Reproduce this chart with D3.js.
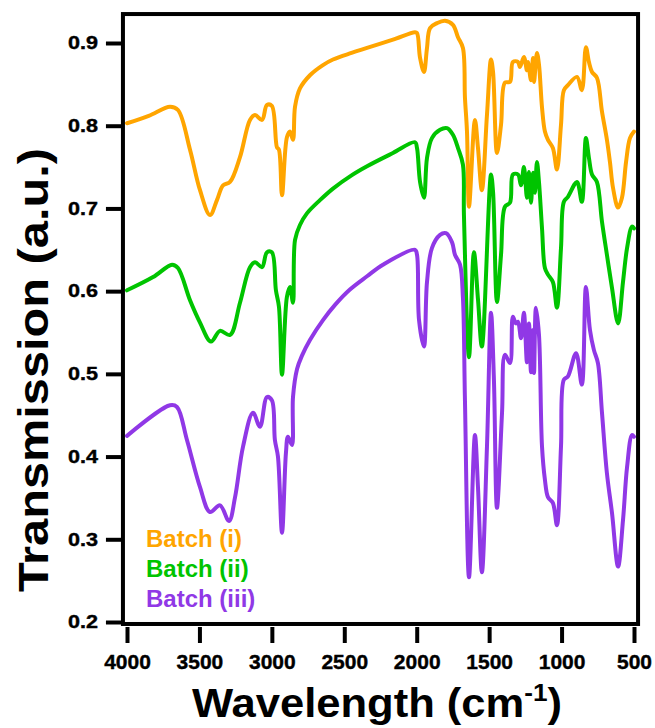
<!DOCTYPE html>
<html lang="en">
  <head>
    <meta charset="utf-8">
    <title>FTIR spectra</title>
    <style>
      body { margin: 0; background: #fff; }
      text { font-family: "Liberation Sans", Arial, sans-serif; font-weight: bold; }
    </style>
  </head>
  <body>
    <svg width="655" height="728"></svg>
    <script src="https://cdn.jsdelivr.net/npm/d3@7/dist/d3.min.js"></script>
    <script>
      // wavenumber (cm-1) and transmission
      const batch1Wn = [4000,3850,3703,3648,3565,3496,3427,3379,3337,3289,3220,3151,3116,3068,3034,3000,2965,2951,2930,2896,2875,2854,2840,2806,2737,2650,2578,2450,2343,2164,2012,1998,1977,1950,1929,1908,1860,1805,1750,1715,1681,1667,1653,1639,1598,1577,1550,1515,1487,1473,1446,1418,1391,1356,1336,1301,1287,1260,1239,1232,1211,1197,1190,1170,1156,1135,1115,1094,1060,1032,1004,984,956,894,860,832,811,790,756,721,687,666,645,610,583,555,528,500];
      const batch1T = [0.803,0.812,0.823,0.819,0.771,0.722,0.692,0.710,0.728,0.732,0.762,0.807,0.813,0.807,0.825,0.824,0.774,0.771,0.716,0.786,0.793,0.783,0.823,0.845,0.861,0.873,0.880,0.888,0.894,0.904,0.913,0.912,0.882,0.865,0.894,0.918,0.924,0.927,0.922,0.907,0.894,0.834,0.793,0.702,0.807,0.773,0.722,0.813,0.880,0.865,0.767,0.801,0.852,0.853,0.877,0.877,0.871,0.883,0.867,0.877,0.855,0.882,0.853,0.888,0.874,0.822,0.793,0.783,0.773,0.747,0.801,0.843,0.849,0.859,0.843,0.895,0.877,0.865,0.858,0.817,0.783,0.756,0.725,0.701,0.713,0.756,0.785,0.793];

      const batch2Wn = [4000,3820,3689,3648,3565,3496,3420,3358,3289,3220,3151,3116,3068,3034,3000,2972,2951,2930,2896,2875,2854,2840,2806,2758,2668,2578,2450,2343,2164,2012,1998,1977,1950,1929,1895,1839,1791,1750,1715,1681,1674,1639,1605,1577,1550,1487,1473,1446,1418,1391,1356,1336,1301,1280,1260,1239,1225,1211,1197,1184,1170,1156,1135,1115,1094,1060,1032,1004,984,956,894,860,832,811,790,756,721,687,652,610,576,548,514,500];
      const batch2T = [0.601,0.617,0.632,0.628,0.589,0.562,0.539,0.552,0.547,0.586,0.629,0.635,0.629,0.647,0.647,0.601,0.581,0.499,0.593,0.605,0.586,0.662,0.680,0.694,0.710,0.724,0.740,0.751,0.767,0.780,0.773,0.732,0.713,0.761,0.785,0.795,0.797,0.789,0.773,0.753,0.692,0.520,0.647,0.590,0.533,0.741,0.720,0.587,0.644,0.702,0.707,0.741,0.741,0.728,0.750,0.713,0.744,0.707,0.743,0.719,0.756,0.732,0.676,0.628,0.620,0.611,0.580,0.652,0.708,0.714,0.732,0.708,0.785,0.761,0.741,0.732,0.684,0.644,0.604,0.561,0.611,0.652,0.678,0.676];

      const batch3Wn = [4000,3703,3655,3586,3496,3427,3358,3296,3254,3199,3130,3082,3034,3000,2979,2958,2930,2903,2889,2861,2854,2826,2792,2737,2647,2561,2461,2343,2233,2012,1998,1984,1950,1929,1895,1839,1798,1756,1736,1701,1681,1667,1639,1598,1577,1550,1515,1487,1467,1446,1411,1391,1356,1336,1315,1301,1280,1260,1239,1225,1211,1197,1190,1177,1156,1135,1115,1094,1060,1032,1004,984,956,900,860,832,804,777,749,721,687,652,610,576,548,514,500];
      const batch3T = [0.425,0.462,0.460,0.420,0.363,0.333,0.341,0.322,0.351,0.412,0.453,0.436,0.472,0.468,0.420,0.400,0.308,0.404,0.424,0.414,0.472,0.506,0.522,0.541,0.565,0.584,0.602,0.618,0.632,0.650,0.644,0.565,0.533,0.611,0.652,0.668,0.670,0.659,0.644,0.632,0.592,0.468,0.254,0.426,0.363,0.260,0.412,0.574,0.493,0.338,0.453,0.523,0.513,0.569,0.561,0.563,0.543,0.574,0.514,0.561,0.502,0.553,0.501,0.580,0.547,0.412,0.372,0.351,0.344,0.317,0.412,0.493,0.497,0.525,0.487,0.605,0.553,0.529,0.513,0.453,0.380,0.332,0.267,0.323,0.387,0.426,0.424];

      const seriesNames = ['Batch (i)', 'Batch (ii)', 'Batch (iii)'];
      const seriesColours = ['#ffa500', '#00c400', '#9038e6'];
      const xTicks = [4000, 3500, 3000, 2500, 2000, 1500, 1000, 500];
      const yTicks = [0.2, 0.3, 0.4, 0.5, 0.6, 0.7, 0.8, 0.9];

      const series = [
        { name: seriesNames[0], wn: batch1Wn, t: batch1T },
        { name: seriesNames[1], wn: batch2Wn, t: batch2T },
        { name: seriesNames[2], wn: batch3Wn, t: batch3T }
      ];

      const svg = d3.select('svg');

      const x = d3.scaleLinear().domain([4000, 500]).range([127, 634]);
      const y = d3.scaleLinear().domain([0.2, 0.9]).range([622, 43]);

      const frameLeft = x(4028), frameRight = x(472);
      const frameTop = y(0.935), frameBottom = y(0.1976);

      // frame
      svg.append('rect')
        .attr('x', frameLeft).attr('y', frameTop)
        .attr('width', frameRight - frameLeft).attr('height', frameBottom - frameTop)
        .attr('fill', 'none').attr('stroke', '#000').attr('stroke-width', 4);

      // y axis
      const yAxis = svg.append('g')
        .attr('transform', 'translate(' + frameLeft + ',0)')
        .call(d3.axisLeft(y).tickValues(yTicks).tickSize(17).tickPadding(8).tickFormat(d3.format('.1f')));
      yAxis.select('.domain').remove();
      yAxis.selectAll('line').attr('stroke-width', 4);
      yAxis.selectAll('text')
        .attr('font-size', 18).attr('fill', '#000')
        .attr('stroke', '#000').attr('stroke-width', 0.4)
        .attr('font-family', '"Liberation Sans", Arial, sans-serif')
        .attr('textLength', 30).attr('lengthAdjust', 'spacingAndGlyphs');

      // x axis
      const xAxis = svg.append('g')
        .attr('transform', 'translate(0,' + (frameBottom + 3) + ')')
        .call(d3.axisBottom(x).tickValues(xTicks).tickSize(16).tickPadding(11).tickFormat(d3.format('d')));
      xAxis.select('.domain').remove();
      xAxis.selectAll('line').attr('stroke-width', 4);
      xAxis.selectAll('text')
        .attr('font-size', 21).attr('fill', '#000')
        .attr('stroke', '#000').attr('stroke-width', 0.4)
        .attr('font-family', '"Liberation Sans", Arial, sans-serif');

      // spectra
      const line = d3.line()
        .x(function(d) { return x(d[0]); })
        .y(function(d) { return y(d[1]); })
        .curve(d3.curveCatmullRom.alpha(0.5));

      svg.append('g').selectAll('path')
        .data(series).enter()
        .append('path')
        .attr('d', function(d) { return line(d.wn.map(function(w, i) { return [w, d.t[i]]; })); })
        .attr('fill', 'none')
        .attr('stroke', function(d, i) { return seriesColours[i]; })
        .attr('stroke-width', 4)
        .attr('stroke-linejoin', 'round')
        .attr('stroke-linecap', 'round');

      // legend
      svg.append('g').selectAll('text')
        .data(series).enter()
        .append('text')
        .attr('x', 146)
        .attr('y', function(d, i) { return 547 + i * 30; })
        .attr('font-size', 24)
        .attr('fill', function(d, i) { return seriesColours[i]; })
        .text(function(d) { return d.name; });

      // axis titles
      const xTitle = svg.append('text')
        .attr('x', 377).attr('y', 717)
        .attr('text-anchor', 'middle')
        .attr('font-size', 40)
        .attr('textLength', 370).attr('lengthAdjust', 'spacingAndGlyphs');
      xTitle.append('tspan').text('Wavelength (cm');
      xTitle.append('tspan').attr('font-size', 24).attr('dy', -16).text('-1');
      xTitle.append('tspan').attr('dy', 16).text(')');

      svg.append('text')
        .attr('transform', 'translate(48,370) rotate(-90)')
        .attr('text-anchor', 'middle')
        .attr('font-size', 43)
        .attr('textLength', 444).attr('lengthAdjust', 'spacingAndGlyphs')
        .text('Transmission (a.u.)');
    </script>
  </body>
</html>
